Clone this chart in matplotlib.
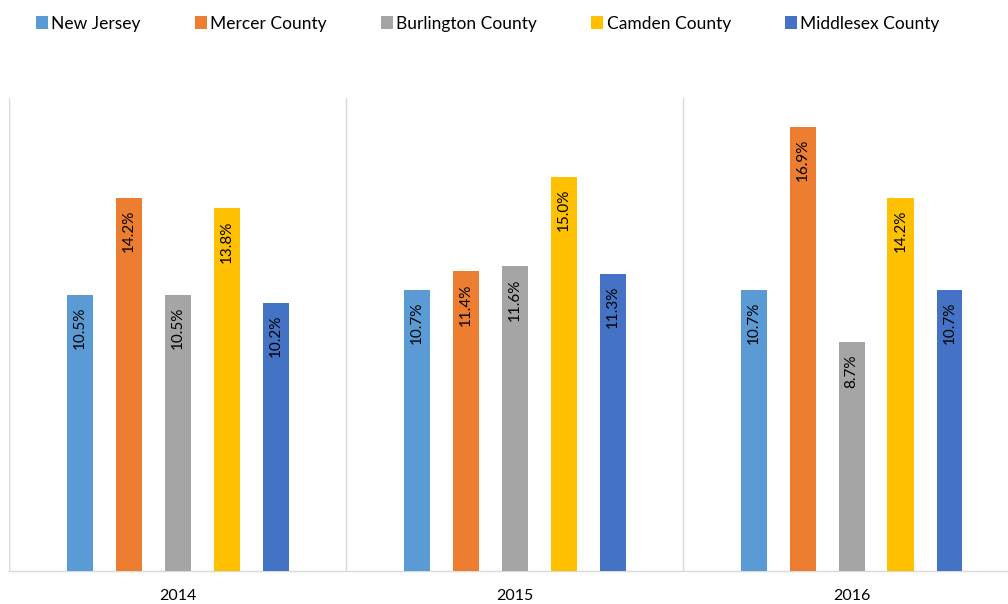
import numpy as np
import matplotlib
matplotlib.use("Agg")
import matplotlib.pyplot as plt

plt.rcParams['font.family'] = ['Lato', 'DejaVu Sans']

# datos
years = ['2014', '2015', '2016']
series = ['New Jersey', 'Mercer County', 'Burlington County', 'Camden County', 'Middlesex County']
new_jersey = [10.5, 10.7, 10.7]
mercer = [14.2, 11.4, 16.9]
burlington = [10.5, 11.6, 8.7]
camden = [13.8, 15.0, 14.2]
middlesex = [10.2, 11.3, 10.7]
colors = ['#5B9BD5', '#ED7D31', '#A5A5A5', '#FFC000', '#4472C4']

valores = [new_jersey, mercer, burlington, camden, middlesex]

fig = plt.figure(figsize=(10.08, 6.04), dpi=100)
# el area del grafico sigue un poco mas alla del borde derecho
ax = fig.add_axes([9 / 1008, 33 / 604, 1011 / 1008, 473 / 604])

x = np.arange(len(years))
paso = 49 / 337
ancho = 26 / 337
for i, (nombre, vals, c) in enumerate(zip(series, valores, colors)):
    pos = x + (i - 2) * paso
    ax.bar(pos, vals, width=ancho, color=c, label=nombre, zorder=3)
    for px, v in zip(pos, vals):
        ax.annotate(f'{v:.1f}%', (px, v), xytext=(0, -12), textcoords='offset pixels',
                    rotation=90, ha='center', va='top', fontsize=11, color='black', zorder=4)

ax.set_xlim(-0.5, 2.5)
ax.set_ylim(0, 18)
ax.set_yticks([])
ax.set_xticks(x)
ax.set_xticklabels(years, fontsize=11.5)
ax.tick_params(axis='x', length=0, pad=13)
for b in [-0.5, 0.5, 1.5]:
    ax.axvline(b, color='#D9D9D9', linewidth=1, zorder=1)
for s in ['top', 'right', 'left']:
    ax.spines[s].set_visible(False)
ax.spines['bottom'].set_color('#D9D9D9')
ax.spines['bottom'].set_linewidth(1)

fig.legend(loc='upper left', bbox_to_anchor=(20 / 1008, 1.0), ncol=5, frameon=False,
           fontsize=12.5, handlelength=0.7, handleheight=0.7, handletextpad=0.2,
           columnspacing=3.1)

fig.savefig('out.png', dpi=100)
